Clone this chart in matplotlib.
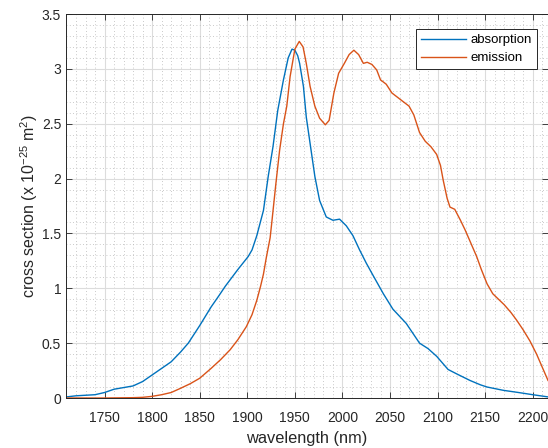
import numpy as np
import matplotlib
matplotlib.use('Agg')
import matplotlib.pyplot as plt
from matplotlib.ticker import MultipleLocator

plt.rcParams['font.family'] = ['Liberation Sans', 'DejaVu Sans']
plt.rcParams['mathtext.default'] = 'regular'

# absorption cross section (x 1e-25 m^2)
wl_abs = [1710, 1720, 1730, 1740, 1750, 1760, 1770, 1780, 1790, 1800, 1810, 1820,
          1830, 1838, 1850, 1862, 1870, 1877, 1890, 1901, 1905, 1910, 1917, 1922,
          1927, 1932, 1938, 1943, 1947, 1950, 1953, 1955, 1959, 1962, 1967, 1971,
          1976, 1983, 1990, 1997, 2004, 2011, 2018, 2025, 2032, 2043, 2053, 2067,
          2081, 2090, 2099, 2105, 2111, 2120, 2134, 2145, 2152, 2169, 2185, 2200, 2216]
sig_abs = [0.01, 0.02, 0.025, 0.03, 0.05, 0.08, 0.095, 0.11, 0.15, 0.21, 0.27, 0.33,
           0.42, 0.50, 0.66, 0.83, 0.93, 1.02, 1.17, 1.29, 1.35, 1.48, 1.71, 2.02,
           2.29, 2.62, 2.90, 3.10, 3.18, 3.17, 3.12, 3.05, 2.84, 2.56, 2.26, 2.02,
           1.80, 1.65, 1.62, 1.63, 1.57, 1.48, 1.35, 1.23, 1.12, 0.95, 0.81, 0.68,
           0.50, 0.45, 0.38, 0.32, 0.26, 0.22, 0.16, 0.12, 0.10, 0.07, 0.05, 0.03, 0.01]

# emission cross section (x 1e-25 m^2)
wl_em = [1710, 1750, 1780, 1790, 1800, 1810, 1820, 1829, 1840, 1850, 1862, 1872,
         1882, 1890, 1899, 1905, 1910, 1914, 1917, 1920, 1924, 1926, 1930, 1934,
         1938, 1941.5, 1945, 1950, 1954.6, 1958.6, 1962, 1966, 1971, 1976, 1982,
         1986, 1991, 1996, 2002, 2007, 2012, 2017, 2022, 2026, 2031, 2036, 2040,
         2046, 2052, 2058, 2064, 2070, 2075, 2081, 2087, 2093, 2099, 2103, 2106,
         2110, 2113, 2118, 2124, 2129, 2135, 2141, 2146, 2152, 2158, 2164, 2170,
         2177, 2183, 2190, 2197, 2204, 2211, 2216]
sig_em = [0.0, 0.0, 0.003, 0.006, 0.015, 0.03, 0.05, 0.085, 0.13, 0.18, 0.27, 0.35,
          0.44, 0.53, 0.65, 0.76, 0.89, 1.02, 1.13, 1.28, 1.46, 1.62, 1.95, 2.26,
          2.50, 2.66, 2.93, 3.18, 3.25, 3.20, 3.05, 2.84, 2.66, 2.55, 2.49,
          2.53, 2.78, 2.96, 3.05, 3.13, 3.17, 3.13, 3.05, 3.06, 3.04, 2.99, 2.90,
          2.86, 2.78, 2.74, 2.70, 2.66, 2.58, 2.42, 2.34, 2.29, 2.22, 2.12, 1.98,
          1.82, 1.74, 1.72, 1.62, 1.53, 1.41, 1.29, 1.17, 1.04, 0.95, 0.90, 0.85,
          0.78, 0.71, 0.62, 0.52, 0.40, 0.26, 0.16]

txt = '#262626'

fig = plt.figure(figsize=(5.48, 4.48), dpi=100)
ax = fig.add_axes([66/548, 50/448, 1 - 66/548, 384/448])

ax.plot(wl_abs, sig_abs, color='#0072BD', lw=1.0, label='absorption')
ax.plot(wl_em, sig_em, color='#D95319', lw=1.0, label='emission')

ax.set_xlim(1709.5, 2216)
ax.set_ylim(0, 3.5)
ax.set_xticks(np.arange(1750, 2201, 50))
ax.set_yticks(np.arange(0, 3.51, 0.5))
ax.set_yticklabels(['0', '0.5', '1', '1.5', '2', '2.5', '3', '3.5'])
ax.xaxis.set_minor_locator(MultipleLocator(10))
ax.yaxis.set_minor_locator(MultipleLocator(0.1))

ax.grid(True, which='major', color='#dcdcdc', lw=0.8)
ax.grid(True, which='minor', color='#b8b8b8', lw=0.6, ls=(0, (1, 3)))
ax.set_axisbelow(True)

ax.tick_params(which='major', direction='in', length=4, top=True, right=True,
               labelsize=10, labelcolor=txt, color=txt, width=0.6)
ax.tick_params(axis='x', which='major', pad=9)
ax.tick_params(which='minor', length=0)
for s in ax.spines.values():
    s.set_color(txt)
    s.set_linewidth(0.7)

ax.set_xlabel('wavelength (nm)', fontsize=11.8, color=txt, labelpad=5)
ax.set_ylabel('cross section (x 10$^{-25}$ m$^2$)', fontsize=11.5, color=txt, labelpad=1)

leg = ax.legend(loc='upper right', bbox_to_anchor=(0.977, 0.96), borderaxespad=0,
                fontsize=9.5, fancybox=False, framealpha=1, edgecolor='#262626',
                handlelength=3.4, borderpad=0.35, labelspacing=0.45, handletextpad=0.4)
leg.get_frame().set_linewidth(0.7)

fig.savefig('out.png', dpi=100)
